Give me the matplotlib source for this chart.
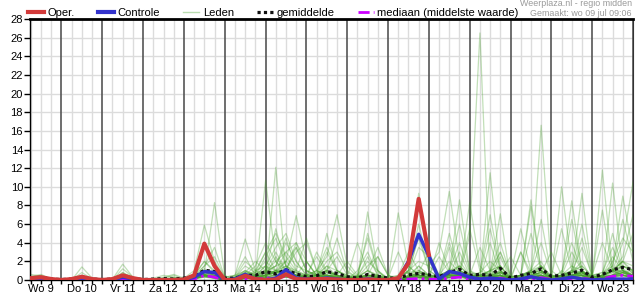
import numpy as np
import matplotlib.pyplot as plt
from matplotlib.lines import Line2D

plt.rcParams['font.family'] = ['Liberation Sans', 'DejaVu Sans']

# 6-hourly steps, hours since Wo 9 00:00
hours = np.arange(6, 361, 6)
day_labels = ["Wo 9", "Do 10", "Vr 11", "Za 12", "Zo 13", "Ma 14", "Di 15", "Wo 16",
              "Do 17", "Vr 18", "Za 19", "Zo 20", "Ma 21", "Di 22", "Wo 23"]

# operational run (stops after 240 h)
oper = [0.2, 0.3, 0.1, 0.0, 0.1, 0.35, 0.1, 0.0, 0.1, 0.5, 0.2, 0.0, 0.0, 0.0, 0.0,
        0.05, 0.5, 3.9, 1.5, 0.0, 0.0, 0.45, 0.1, 0.0, 0.05, 0.6, 0.1, 0.05, 0.1, 0.1,
        0.05, 0.0, 0.0, 0.05, 0.0, 0.0, 0.2, 1.8, 8.7, 2.7]

controle = [0.1, 0.2, 0.0, 0.0, 0.0, 0.2, 0.0, 0.0, 0.0, 0.3, 0.1, 0.0, 0.0, 0.0, 0.0,
            0.0, 0.3, 0.9, 0.8, 0.0, 0.1, 0.6, 0.1, 0.0, 0.2, 1.1, 0.2, 0.1, 0.1, 0.2,
            0.1, 0.0, 0.0, 0.1, 0.0, 0.0, 0.1, 2.0, 4.9, 2.6, 0.1, 0.9, 0.7, 0.3, 0.1,
            0.2, 0.1, 0.0, 0.1, 0.35, 0.1, 0.0, 0.1, 0.3, 0.1, 0.0, 0.05, 0.1, 0.1, 0.1]

gemiddelde = [0.2, 0.3, 0.1, 0.05, 0.1, 0.3, 0.1, 0.05, 0.1, 0.4, 0.15, 0.05, 0.1, 0.15, 0.1,
              0.2, 0.4, 1.05, 0.9, 0.2, 0.2, 0.5, 0.5, 0.9, 0.65, 1.1, 0.65, 0.35, 0.45, 0.9,
              0.7, 0.35, 0.2, 0.6, 0.4, 0.2, 0.2, 0.55, 0.7, 0.55, 0.35, 0.8, 1.15, 0.5, 0.6,
              0.5, 1.25, 0.2, 0.5, 0.7, 1.2, 0.4, 0.5, 0.75, 1.05, 0.3, 0.6, 1.1, 1.35, 1.1]

mediaan = [0.1, 0.1, 0.0, 0.0, 0.0, 0.1, 0.0, 0.0, 0.0, 0.1, 0.0, 0.0, 0.0, 0.0, 0.0,
           0.0, 0.1, 0.5, 0.3, 0.0, 0.0, 0.1, 0.1, 0.2, 0.2, 0.4, 0.2, 0.1, 0.1, 0.2,
           0.1, 0.0, 0.0, 0.1, 0.1, 0.0, 0.0, 0.1, 0.15, 0.1, 0.05, 0.2, 0.3, 0.1, 0.1,
           0.1, 0.2, 0.0, 0.1, 0.1, 0.25, 0.05, 0.1, 0.15, 0.2, 0.05, 0.1, 0.4, 0.5, 0.4]

leden = [
    [0.3, 0.5, 0.1, 0, 0, 1.4, 0.2, 0, 0, 0.4, 0.1, 0, 0, 0, 0, 0, 0.4, 1.2, 0.5, 0, 0.3, 1.0, 0.6,
     10.7, 2.0, 0.5, 0.2, 0, 0, 0.3, 0.1, 0, 0, 0.5, 0.2, 0, 0, 0.2, 1.5, 0.5, 0, 0.3, 0.8,
     0.2, 0, 0.5, 2.5, 0, 0, 0.6, 1.5, 0, 0.3, 0.8, 2.0, 0, 0, 0.5, 1.0, 0.3],
    [0.2, 0.3, 0, 0, 0.1, 0.3, 0.1, 0, 0.1, 1.7, 0.3, 0, 0, 0, 0, 0, 0.2, 0.8, 8.3, 0.5, 0, 0.2, 0.3,
     0.4, 12.1, 1.0, 0.3, 0, 0.5, 1.5, 0.4, 0, 0, 0.2, 0, 0, 0, 0.4, 0.8, 0.3, 0, 1.2, 0.5,
     0, 0.2, 0.3, 1.0, 0, 0.2, 0.5, 0.4, 0, 1.0, 0.3, 0.5, 0, 0.5, 1.2, 0.8, 0.4],
    [0.6, 0.4, 0.1, 0, 0, 0.5, 0.1, 0, 0, 0.8, 0.2, 0, 0, 0.3, 0.6, 0.2, 0.5, 1.5, 3.5, 0.3, 0.5, 4.4, 1.0,
     0.5, 1.0, 2.0, 6.9, 2.0, 0.5, 0.3, 0.1, 0, 0, 0.3, 0.1, 0, 0, 0.2, 0.4, 0, 0.2, 0.5, 1.5,
     0.3, 0, 0.2, 0.8, 0, 0.1, 0.4, 0.2, 0, 0, 0.3, 0.6, 0, 0.2, 0.5, 1.2, 0.5],
    [0.1, 0.2, 0, 0, 0, 0.2, 0, 0, 0, 0.3, 0.1, 0, 0.2, 0.5, 0.3, 0, 0.3, 0.5, 0.3, 0, 0.2, 0.5, 0.4,
     2.5, 4.5, 1.5, 0.8, 0.5, 1.0, 2.5, 7.0, 1.5, 0.3, 0.5, 0.2, 0, 0, 0.3, 0.5, 0.2, 0, 0.5, 0.3,
     0.1, 0, 0.2, 0.5, 0, 0, 0.2, 0.5, 0, 0, 0.3, 0.8, 0, 0.1, 0.4, 0.6, 0.3],
    [0.4, 0.3, 0.1, 0, 0, 0.3, 0.1, 0, 0, 0.5, 0.2, 0, 0, 0, 0.2, 0.2, 1.0, 5.9, 2.0, 0.2, 0, 0.5, 1.0,
     1.5, 3.5, 5.0, 2.0, 0.5, 0.2, 1.0, 0.5, 0, 0.2, 7.3, 1.0, 0, 0, 0.2, 0.6, 0.2, 0, 0.8, 1.0,
     0.5, 0, 0.3, 0.5, 0, 0.2, 0.5, 0.3, 0, 0.3, 1.0, 0.4, 0, 0, 0.5, 1.5, 1.0],
    [0.2, 0.3, 0, 0, 0, 0.8, 0.1, 0, 0, 1.2, 0.3, 0, 0, 0, 0, 0, 0.2, 1.0, 0.8, 0, 0.3, 2.0, 1.0,
     3.0, 5.0, 2.5, 1.0, 4.5, 1.0, 0.5, 0.2, 0, 1.0, 3.0, 0.5, 0, 7.2, 1.5, 0.5, 0.2, 0.5, 1.0, 0.5,
     0, 0, 0.3, 0.4, 0, 0.2, 0.2, 1.0, 0.2, 0.3, 0.5, 0.8, 0, 0.5, 1.0, 2.0, 0.6],
    [0.1, 0.1, 0, 0, 0, 0.1, 0, 0, 0, 0.2, 0, 0, 0, 0, 0, 0, 0.1, 0.5, 0.3, 0, 0, 0.3, 0.2,
     1.0, 2.0, 3.0, 4.0, 2.0, 0.5, 0.3, 0.5, 0.2, 0.3, 1.5, 2.5, 0.5, 0, 1.0, 9.3, 2.0, 0.5, 0.3, 0.5,
     0.2, 0.5, 1.0, 3.0, 0.2, 0.5, 0.8, 1.0, 0, 0.2, 0.5, 0.5, 0, 0.3, 0.8, 1.5, 1.0],
    [0.3, 0.2, 0, 0, 0, 0.3, 0.1, 0, 0, 0.3, 0.1, 0, 0, 0, 0, 0, 0.3, 0.8, 0.5, 0, 0, 0.2, 0.5,
     1.5, 0.5, 0.3, 0.2, 0, 0, 0.3, 1.0, 0.5, 0, 0.2, 0.3, 0, 0.2, 1.0, 2.0, 1.5, 3.0, 9.5, 2.0,
     0.5, 0, 0.3, 0.8, 0, 0, 0.2, 0.3, 0, 0, 0.5, 1.0, 0, 0.2, 2.0, 4.5, 3.0],
    [0.2, 0.3, 0.1, 0, 0, 0.2, 0, 0, 0, 0.4, 0.1, 0, 0, 0.2, 0.5, 0.1, 0.3, 1.0, 0.5, 0, 0.2, 0.3, 0.2,
     0.5, 0.8, 1.5, 0.5, 0.3, 0.3, 0.8, 0.5, 0, 0, 0.3, 0.2, 0, 0, 0.3, 0.5, 0.2, 0, 1.0, 8.6,
     1.0, 0.2, 0.5, 1.0, 0, 0.5, 7.9, 1.0, 0, 0.3, 0.5, 0.3, 0, 0, 0.3, 0.5, 0.2],
    [0.1, 0.2, 0, 0, 0, 0.4, 0, 0, 0, 0.6, 0.1, 0, 0, 0, 0, 0, 0.5, 2.0, 1.0, 0, 0, 0.5, 0.3,
     0.5, 1.0, 0.8, 0.4, 0.2, 0.1, 0.3, 0.2, 0, 0, 0.3, 0.1, 0, 0.3, 0.8, 0.3, 0.2, 0.1, 0.3, 0.5,
     8.3, 1.5, 0.3, 0.5, 0, 0.2, 0.3, 1.5, 0.3, 0.5, 1.0, 9.3, 0.5, 0.3, 0.5, 0.8, 0.3],
    [0.2, 0.2, 0, 0, 0, 0.2, 0, 0, 0, 0.2, 0, 0, 0, 0, 0, 0, 0.2, 0.6, 0.4, 0, 0.2, 0.5, 1.5,
     4.0, 2.0, 1.0, 0.5, 0.3, 0.5, 2.0, 3.0, 1.0, 0.2, 0.5, 0.3, 0, 0, 0.2, 0.3, 0.1, 0, 0.3, 0.5,
     4.8, 26.5, 0.1, 0.3, 0, 0, 0.2, 0.5, 0, 0.2, 0.3, 0.5, 0, 0.3, 0.6, 1.0, 0.8],
    [0.3, 0.3, 0, 0, 0, 0.2, 0, 0, 0, 0.3, 0.1, 0, 0, 0, 0, 0, 0.2, 0.5, 0.3, 0, 0.1, 0.3, 0.2,
     0.8, 1.5, 4.0, 2.0, 0.5, 1.0, 0.5, 0.3, 0, 0.5, 2.0, 1.0, 0, 0.2, 0.3, 0.2, 0, 0.1, 0.5, 0.3,
     0.2, 0, 0.3, 0.5, 0, 0, 0.5, 16.6, 1.0, 0.2, 0.3, 0.5, 0, 0.3, 1.0, 2.0, 1.5],
    [0.2, 0.2, 0, 0, 0, 0.3, 0.1, 0, 0, 0.4, 0.1, 0, 0, 0, 0, 0, 0.3, 0.8, 1.0, 0.2, 0.3, 1.5, 0.8,
     2.0, 1.0, 3.0, 1.5, 1.0, 0.5, 0.8, 0.5, 0.2, 0.3, 0.5, 2.5, 0.5, 0.2, 0.3, 0.8, 0.5, 0.2, 0.3, 0.5,
     0, 0.3, 0.5, 0.3, 0, 0, 0.3, 0.5, 0, 10.0, 1.5, 0.5, 0, 0.5, 0.3, 0.8, 0.5],
    [0.1, 0.3, 0, 0, 0, 0.2, 0, 0, 0, 0.3, 0, 0, 0, 0, 0, 0, 0.2, 0.6, 0.4, 0, 0, 0.4, 0.3,
     0.3, 0.6, 1.0, 0.5, 0.2, 0.3, 0.5, 0.3, 0, 0, 0.2, 0.3, 0, 0, 0.3, 0.5, 0.2, 0, 0.5, 1.0,
     0.5, 0.3, 11.5, 1.0, 0, 0, 0.3, 0.5, 0, 0.2, 0.5, 0.8, 0, 11.8, 1.0, 0.5, 0.2],
    [0.2, 0.2, 0, 0, 0, 0.1, 0, 0, 0, 0.2, 0, 0, 0, 0, 0.3, 0, 0.2, 0.5, 0.2, 0, 0.2, 0.8, 0.5,
     1.0, 0.8, 1.2, 3.0, 4.0, 1.0, 0.5, 0.2, 0, 0.3, 1.0, 0.5, 0, 0, 0.5, 1.5, 0.5, 0.3, 0.5, 3.0,
     0.5, 0.3, 0.8, 7.1, 0, 0.3, 0.5, 0.8, 0, 0.2, 0.5, 1.0, 0, 0.3, 10.4, 1.0, 0.3],
    [0.1, 0.2, 0, 0, 0, 0.2, 0, 0, 0, 0.2, 0, 0, 0, 0, 0, 0, 0.1, 0.5, 0.3, 0, 0.2, 0.3, 0.2,
     0.5, 2.5, 1.0, 0.5, 0.3, 0.2, 0.4, 0.3, 0, 0, 0.3, 0.2, 0, 0, 0.3, 0.5, 0.3, 0.5, 0.5, 0.5,
     0.3, 0, 0.3, 0.5, 0.2, 0, 0.3, 0.5, 0, 0.3, 0.5, 0.5, 0.2, 0.5, 1.0, 4.0, 10.5],
    [0.3, 0.4, 0.1, 0, 0.1, 0.5, 0.1, 0, 0.1, 0.5, 0.1, 0, 0, 0, 0, 0, 0.3, 1.5, 2.5, 0.3, 0.5, 1.0, 0.5,
     0.8, 1.5, 2.0, 3.5, 1.0, 0.5, 1.5, 1.0, 0.5, 0.3, 0.5, 0.5, 0.2, 0.3, 1.5, 0.5, 0.3, 0.5, 4.0, 1.0,
     0.5, 0.3, 0.5, 1.5, 0, 0.5, 1.0, 2.0, 0, 0.3, 0.8, 1.5, 0.3, 0.5, 1.0, 1.0, 0.5],
    [0.2, 0.2, 0, 0, 0, 0.3, 0.1, 0, 0, 0.3, 0.1, 0, 0, 0, 0, 0, 0.2, 0.6, 0.3, 0, 0, 0.3, 0.5,
     1.5, 1.0, 0.5, 0.3, 0.5, 1.0, 3.5, 1.0, 0.3, 0.2, 0.3, 0.2, 0, 0, 0.2, 0.3, 0.2, 0, 0.5, 0.5,
     0.5, 0.5, 0.3, 0.2, 0, 0, 0.3, 0.5, 0, 0, 0.3, 0.5, 0, 0.2, 0.5, 0.5, 0.3],
    [0.2, 0.3, 0, 0, 0, 0.2, 0, 0, 0, 0.3, 0.1, 0, 0, 0, 0, 0, 0.2, 0.4, 0.2, 0, 0, 0.2, 0.1,
     0.3, 0.5, 0.3, 0.2, 0.1, 0.2, 0.5, 0.4, 0, 0, 0.2, 0.1, 0, 0, 0.1, 0.3, 0.2, 0, 3.5, 0.5,
     0.2, 0.8, 2.0, 1.0, 0, 0.2, 0.5, 0.3, 0, 0.5, 1.5, 1.0, 0, 0.2, 0.5, 0.8, 0.3],
    [0.4, 0.6, 0.1, 0, 0, 0.4, 0.1, 0, 0, 0.5, 0.2, 0, 0, 0, 0, 0, 0.3, 0.8, 0.5, 0, 0.3, 1.0, 0.3,
     0.5, 1.0, 0.8, 0.5, 0.2, 0.8, 1.0, 0.5, 0, 0, 0.5, 0.3, 0, 0, 0.3, 0.5, 0.3, 0.2, 0.8, 1.5,
     0.5, 0.3, 0.5, 0.8, 0, 0.5, 8.6, 1.0, 0, 0.3, 0.5, 0.5, 0, 0.5, 1.0, 1.5, 0.8],
    [0.1, 0.2, 0, 0, 0, 0.2, 0, 0, 0, 0.2, 0, 0, 0, 0, 0, 0, 0.2, 0.3, 0.2, 0, 0, 0.2, 0.2,
     0.2, 0.3, 0.5, 0.3, 0.3, 0.5, 5.0, 1.0, 0.3, 0.2, 0.3, 0.2, 0, 0, 0.2, 0.3, 0.2, 0, 0.3, 0.5,
     0.2, 0.3, 0.5, 0.5, 0, 0, 0.3, 0.5, 0, 0.2, 0.5, 0.8, 0, 0.3, 0.5, 0.8, 0.5],
    [0.2, 0.2, 0, 0, 0, 0.2, 0, 0, 0, 0.3, 0.1, 0, 0, 0, 0, 0, 0.2, 0.5, 0.3, 0, 0, 0.3, 0.2,
     0.5, 0.8, 0.5, 0.3, 0.2, 0.3, 0.5, 0.3, 0.2, 0.3, 5.0, 1.0, 0.2, 0, 0.3, 0.5, 0.3, 0, 0.5, 0.5,
     0.2, 0, 0.3, 0.5, 0, 0.3, 0.8, 0.5, 0, 0.5, 3.0, 1.0, 0, 0.3, 0.5, 0.5, 0.3],
    [0.3, 0.2, 0, 0, 0, 0.3, 0, 0, 0, 0.3, 0, 0, 0, 0, 0, 0, 0.2, 0.5, 0.3, 0, 0, 0.2, 0.3,
     0.5, 1.0, 0.5, 0.3, 0.2, 0.3, 0.3, 0.2, 0, 0, 0.2, 0.3, 0, 0, 0.5, 3.5, 2.5, 0.5, 0.5, 0.8,
     0.5, 0.3, 0.5, 1.5, 0.3, 0.5, 0.5, 0.8, 0.3, 0.5, 0.5, 0.8, 0, 0.5, 2.5, 1.0, 0.5],
    [0.1, 0.1, 0, 0, 0, 0.1, 0, 0, 0, 0.1, 0, 0, 0, 0, 0, 0, 0.1, 0.3, 0.2, 0, 0, 0.1, 0.1,
     0.2, 0.2, 0.3, 0.2, 0.1, 0.1, 0.2, 0.1, 0, 0, 0.1, 0.1, 0, 0, 0.1, 0.2, 0.1, 0, 0.2, 0.3,
     0.1, 0, 0.2, 0.3, 0, 0, 0.2, 0.3, 0, 0.1, 0.2, 0.3, 0, 0.1, 0.3, 0.5, 0.2],
    [0.2, 0.3, 0, 0, 0, 0.3, 0.1, 0, 0, 0.8, 0.2, 0, 0, 0, 0, 0, 0.2, 0.6, 0.3, 0, 0, 0.3, 0.2,
     0.3, 0.5, 0.8, 0.5, 0.5, 0.3, 0.5, 0.5, 0.2, 0.3, 2.5, 0.5, 0.3, 0.5, 0.8, 1.0, 0.5, 0.3, 0.5, 1.0,
     0.5, 0.3, 0.5, 0.8, 0.3, 0.5, 0.8, 1.0, 0.5, 0.3, 0.5, 0.8, 0.3, 0.5, 0.8, 1.0, 0.5],
    [0.1, 0.2, 0, 0, 0, 0.2, 0, 0, 0, 0.2, 0, 0, 0, 0, 0, 0, 0.1, 0.4, 0.3, 0, 0, 0.2, 0.2,
     0.3, 0.5, 0.3, 0.2, 0.2, 0.3, 0.4, 0.2, 0, 0, 0.3, 0.2, 0, 0, 0.2, 0.3, 0.2, 0, 0.3, 0.5,
     0.2, 0, 4.0, 0.5, 0, 3.0, 0.3, 0.5, 0, 0.3, 0.5, 0.8, 0, 0.2, 0.3, 0.5, 0.3],
    [0.2, 0.3, 0.1, 0, 0, 0.3, 0.1, 0, 0, 0.4, 0.1, 0, 0, 0, 0, 0, 0.2, 0.5, 0.5, 0, 0.2, 0.5, 0.3,
     0.5, 0.8, 1.2, 0.8, 0.3, 0.5, 0.5, 0.3, 0, 0.2, 0.5, 0.5, 0, 0, 0.3, 0.8, 0.5, 0.3, 0.8, 0.5,
     0.3, 0.5, 1.0, 1.5, 0, 0.3, 0.8, 1.5, 0.2, 0.5, 0.8, 1.0, 0.2, 0.5, 1.0, 2.0, 1.0],
    [0.2, 0.2, 0, 0, 0, 0.2, 0, 0, 0, 0.3, 0.1, 0, 0, 0, 0, 0, 0.2, 0.5, 0.3, 0, 0, 0.3, 0.3,
     0.5, 0.5, 0.5, 0.3, 0.3, 0.3, 0.5, 0.3, 0, 0, 0.3, 0.2, 0, 0, 0.5, 5.0, 1.0, 0.3, 0.5, 0.5,
     0.2, 0, 0.3, 0.5, 0, 0.2, 0.5, 0.8, 0, 0.3, 0.5, 4.5, 0.2, 0.3, 0.5, 0.8, 0.5],
    [0.3, 0.3, 0, 0, 0, 0.3, 0, 0, 0, 0.3, 0, 0, 0, 0, 0, 0, 0.3, 0.8, 0.5, 0, 0.3, 0.8, 0.5,
     0.8, 1.0, 1.5, 1.0, 0.5, 0.5, 1.0, 0.5, 0.2, 0.3, 1.0, 0.5, 0.2, 0, 0.5, 1.0, 0.5, 0.5, 1.0, 1.5,
     0.5, 0.5, 1.0, 1.5, 0.2, 0.3, 1.0, 1.5, 0.5, 0.5, 1.0, 1.5, 0.5, 0.5, 1.0, 1.5, 1.0],
    [0.1, 0.2, 0, 0, 0, 0.2, 0, 0, 0, 0.3, 0, 0, 0, 0, 0, 0, 0.2, 0.4, 0.3, 0, 0, 0.2, 0.2,
     0.3, 0.3, 0.5, 0.3, 0.2, 0.2, 0.3, 0.2, 0, 0, 0.2, 0.2, 0, 0, 0.2, 0.5, 0.3, 0, 0.3, 0.5,
     0.3, 0, 0.3, 0.5, 0, 0, 0.3, 0.5, 0.3, 0.5, 8.5, 1.0, 0.2, 0.3, 0.5, 0.8, 0.3],
    [0.2, 0.2, 0, 0, 0, 0.3, 0, 0, 0, 0.3, 0, 0, 0, 0, 0, 0, 0.2, 0.6, 0.3, 0, 0.2, 0.4, 0.3,
     0.5, 0.8, 1.0, 0.5, 0.3, 3.0, 1.0, 0.5, 0.3, 4.0, 1.0, 0.3, 0, 0, 0.3, 0.5, 0.5, 2.5, 0.8, 0.5,
     0.3, 0.5, 5.5, 1.0, 0.2, 3.0, 0.8, 0.5, 0.3, 0.5, 1.0, 6.0, 0.5, 0.8, 3.5, 1.0, 0.5],
    [0.1, 0.2, 0, 0, 0, 0.2, 0, 0, 0, 0.4, 0.1, 0, 0, 0, 0, 0, 0.2, 0.5, 0.3, 0, 0, 0.5, 0.8,
     1.0, 1.5, 4.5, 1.0, 0.5, 0.5, 1.0, 2.5, 0.5, 0.3, 0.5, 0.3, 0, 0.5, 3.0, 1.0, 0.5, 0.3, 1.0, 6.0,
     1.0, 0.5, 0.5, 0.8, 0.3, 0.5, 1.0, 4.0, 0.5, 0.3, 0.5, 0.8, 0.5, 7.5, 1.0, 0.5, 0.3],
    [0.2, 0.3, 0, 0, 0, 0.2, 0, 0, 0, 0.3, 0, 0, 0, 0, 0, 0, 0.2, 0.8, 0.5, 0, 0.3, 0.8, 2.0,
     1.0, 0.8, 1.0, 3.5, 1.0, 0.5, 0.5, 0.5, 2.0, 0.5, 0.3, 0.3, 0, 0, 0.3, 0.8, 0.5, 0.5, 5.0, 1.0,
     0.5, 0.3, 1.0, 4.0, 0.5, 0.3, 0.5, 0.8, 0.3, 5.5, 1.0, 0.5, 0.5, 0.8, 1.5, 6.5, 2.0],
    [0.1, 0.1, 0, 0, 0, 0.2, 0, 0, 0, 0.2, 0, 0, 0, 0, 0, 0, 0.1, 0.5, 0.3, 0, 0.2, 0.5, 0.5,
     1.0, 5.5, 1.5, 0.5, 0.3, 0.5, 3.0, 1.0, 0.3, 0.2, 0.5, 0.5, 0, 0.3, 1.0, 4.5, 1.0, 0.3, 0.5, 0.5,
     0.5, 3.5, 1.0, 0.5, 0.3, 0.5, 5.0, 1.0, 0.3, 0.8, 4.0, 1.0, 0.3, 0.5, 1.5, 9.0, 3.0],
    [0.3, 0.3, 0, 0, 0, 0.3, 0, 0, 0, 0.5, 0.1, 0, 0, 0, 0, 0, 0.5, 2.0, 0.8, 0, 0.2, 0.5, 0.8,
     3.0, 1.0, 0.5, 0.5, 0.5, 2.5, 0.8, 0.5, 0.3, 0.3, 1.0, 3.5, 0.5, 0, 0.3, 0.8, 3.0, 0.5, 0.5, 0.8,
     5.5, 1.0, 0.5, 0.5, 0.3, 0.5, 1.0, 6.5, 0.5, 0.3, 0.5, 0.8, 0.3, 0.5, 1.0, 2.0, 5.0],
    [0.2, 0.2, 0, 0, 0, 0.2, 0, 0, 0, 0.3, 0, 0, 0, 0, 0, 0, 0.2, 0.6, 0.3, 0, 0.5, 2.5, 0.5,
     0.5, 0.8, 2.0, 0.8, 0.3, 0.5, 1.0, 4.5, 0.8, 0.3, 0.5, 0.3, 0.2, 3.0, 0.5, 0.3, 0.3, 0.5, 2.0, 0.8,
     0.5, 0.8, 7.0, 1.0, 0.3, 0.5, 0.5, 0.8, 3.0, 0.5, 0.8, 0.5, 0.3, 0.5, 5.0, 1.0, 0.5],
    [0.1, 0.2, 0, 0, 0, 0.1, 0, 0, 0, 0.2, 0, 0, 0, 0, 0, 0, 0.1, 0.4, 0.2, 0, 0.2, 0.3, 0.5,
     0.5, 0.8, 1.0, 4.0, 1.0, 0.5, 0.5, 0.3, 0.3, 0.5, 4.5, 0.8, 0.2, 0, 0.3, 0.5, 0.3, 4.0, 1.0, 0.5,
     0.3, 0.5, 0.8, 3.0, 0.5, 5.5, 1.0, 0.5, 0.3, 0.5, 0.8, 3.5, 0.5, 4.0, 1.0, 0.5, 0.5],
    [0.2, 0.2, 0, 0, 0, 0.2, 0, 0, 0, 0.3, 0, 0, 0, 0.2, 0.2, 0, 0.2, 0.5, 0.3, 0, 0.2, 0.5, 0.5,
     1.0, 3.0, 1.0, 0.5, 2.0, 0.5, 0.5, 0.3, 0.2, 0.3, 0.5, 0.3, 0, 0.2, 1.0, 6.0, 1.5, 0.5, 1.0, 4.0,
     0.8, 0.5, 0.5, 0.8, 2.5, 0.5, 0.8, 1.0, 0.3, 0.5, 6.5, 1.0, 0.3, 0.5, 1.0, 2.5, 7.0],
]

fig = plt.figure(figsize=(6.35, 3.0), dpi=100)
ax = fig.add_axes([30 / 635, 20 / 300, 603 / 635, 261 / 300])

# grid: light every 6 h, dark at midnight
for h in hours:
    if h % 24 == 0:
        ax.axvline(h, color='#555555', lw=1.2, zorder=1)
    else:
        ax.axvline(h, color='#dcdcdc', lw=1.0, zorder=0)
for y in range(2, 28, 2):
    ax.axhline(y, color='#dcdcdc', lw=1.0, zorder=0)

for m in leden:
    ax.plot(hours, m, color='#46a02a', lw=0.9, alpha=0.33, zorder=2)

ax.plot(hours, mediaan, color='#cc00ff', lw=2, ls=(0, (4, 1.5, 1, 1.5)), zorder=3)
ax.plot(hours, gemiddelde, color='#111111', lw=2.3, ls=(0, (1, 1)), zorder=4)
ax.plot(hours, controle, color='#3333cc', lw=2.5, zorder=5)
ax.plot(hours[:len(oper)], oper, color='#d23a3a', lw=3, zorder=6)

ax.set_xlim(5.5, 359.5)
ax.set_ylim(0, 28)
ax.set_yticks(range(0, 29, 2))
ax.tick_params(axis='y', length=4, width=1, labelsize=8, pad=1)

ax.xaxis.remove_overlapping_locs = False
ax.set_xticks(hours)
ax.set_xticklabels([])
ax.set_xticks([12 + 24 * k for k in range(len(day_labels))], minor=True)
ax.set_xticklabels(day_labels, minor=True)
ax.tick_params(axis='x', which='major', length=3, width=1)
ax.tick_params(axis='x', which='minor', length=0, labelsize=8, pad=3)

for s in ['left', 'bottom']:
    ax.spines[s].set_linewidth(1)
ax.spines['top'].set_linewidth(2)
ax.spines['right'].set_color('#333333')

handles = [Line2D([], [], color='#d23a3a', lw=3),
           Line2D([], [], color='#3333cc', lw=3),
           Line2D([], [], color='#b9dcb0', lw=1),
           Line2D([], [], color='#111111', lw=2.3, ls=(0, (1, 1))),
           Line2D([], [], color='#cc00ff', lw=2, ls=(0, (4, 1.5, 1, 1.5)))]
labels = ['Oper.', 'Controle', 'Leden', 'gemiddelde', 'mediaan (middelste waarde)']
fig.legend(handles, labels, loc='center left', bbox_to_anchor=(28 / 635, 1 - 13 / 300),
           ncol=5, frameon=False, fontsize=8, borderpad=0, borderaxespad=0,
           handlelength=1.45, handletextpad=0.3, columnspacing=2.1)

fig.text(632 / 635, 1 - 4 / 300, 'Weerplaza.nl - regio midden', ha='right', va='center',
         fontsize=6.4, color='#999999')
fig.text(632 / 635, 1 - 13.5 / 300, 'Gemaakt: wo 09 jul 09:06', ha='right', va='center',
         fontsize=6.4, color='#999999')

fig.savefig('out.png', dpi=100)
